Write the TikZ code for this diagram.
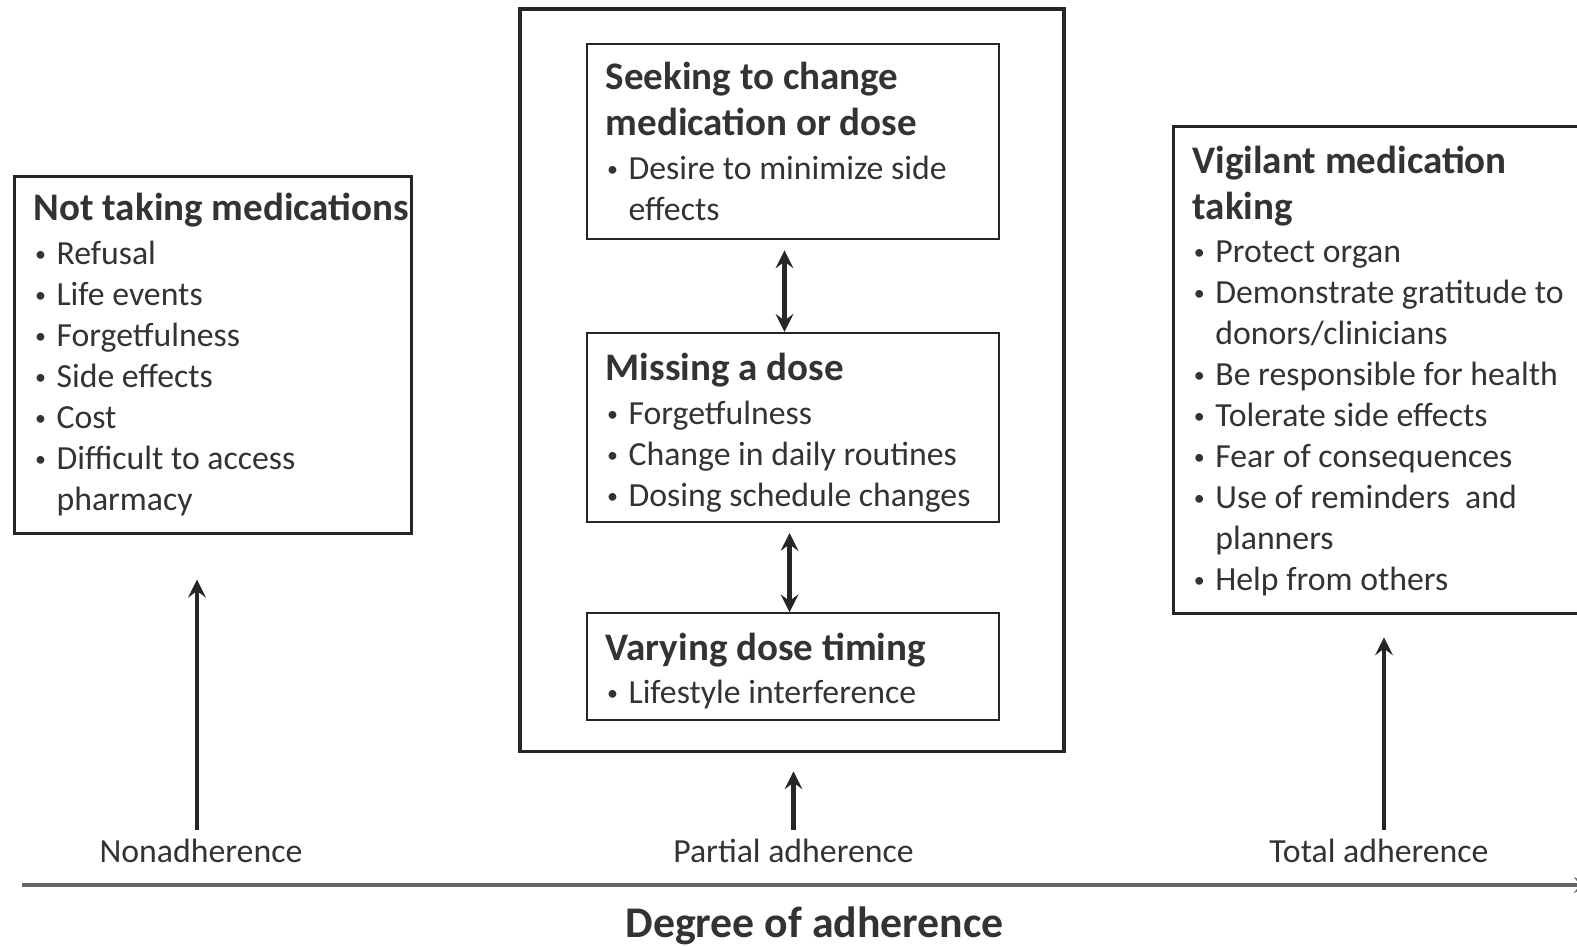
\documentclass[tikz,border=0pt]{standalone}
\usepackage{fontspec}
\setmainfont{Carlito}
\newcommand{\boxtitle}{\fontsize{11.1}{13}\selectfont\bfseries}
\newcommand{\dotitem}{\makebox[6.5pt][l]{\hspace{0.4pt}\raisebox{0.8pt}{\scalebox{0.65}{\textbullet}}}}
\newcommand{\contline}{\hspace*{6.5pt}}

\begin{document}
\begin{tikzpicture}
[
x=0.01cm, y=-0.01cm,
box/.style={draw=black!85, line width=0.6pt, inner sep=0pt},
bigbox/.style={draw=black!85, line width=1.1pt, inner sep=0pt},
txt/.style={anchor=north west, inner sep=0pt, align=left, text=black!80,
font=\fontsize{9.6}{11.67}\selectfont},
lbl/.style={text=black!80, font=\fontsize{9.6}{11.67}\selectfont},
arc/.style={-stealth, line width=1.2pt, black!85},
]
\useasboundingbox (0,0) rectangle (1577,945);
\clip (0,0) rectangle (1577,945);

% boxes
\node[box, line width=0.9pt, minimum width=3.97cm, minimum height=3.56cm] (notaking) at (212.7,355){ };
\node[bigbox, minimum width=5.44cm, minimum height=7.42cm] (partial) at (792,380.2){ };
\node[box, minimum width=4.11cm, minimum height=1.95cm] (seeking) at (793,141.8){ };
\node[box, minimum width=4.11cm, minimum height=1.89cm] (missing) at (793,427.4){ };
\node[box, minimum width=4.11cm, minimum height=1.07cm] (varying) at (793,666.8){ };
\node[box, line width=0.9pt, minimum width=4.2cm, minimum height=4.87cm] (vigilant) at (1383.7,370.1){ };

% box texts
\node[txt] (notakingtxt) at (33,192)
{{\boxtitle Not taking medications}\\[0.85pt]
\dotitem Refusal\\
\dotitem Life events\\
\dotitem Forgetfulness\\
\dotitem Side effects\\
\dotitem Cost\\
\dotitem Difficult to access\\
\contline pharmacy};
\node[txt] (seekingtxt) at (605,61)
{{\boxtitle Seeking to change}\\[1.4pt]
{\boxtitle medication or dose}\\[0.85pt]
\dotitem Desire to minimize side\\
\contline effects};
\node[txt] (missingtxt) at (605,352)
{{\boxtitle Missing a dose}\\[0.85pt]
\dotitem Forgetfulness\\
\dotitem Change in daily routines\\
\dotitem Dosing schedule changes};
\node[txt] (varyingtxt) at (605,632)
{{\boxtitle Varying dose timing}\\[0.6pt]
\dotitem Lifestyle interference};
\node[txt] (vigilanttxt) at (1191.8,145)
{{\boxtitle Vigilant medication}\\[1.4pt]
{\boxtitle taking}\\[0.6pt]
\dotitem Protect organ\\
\dotitem Demonstrate gratitude to\\
\contline donors/clinicians\\
\dotitem Be responsible for health\\
\dotitem Tolerate side effects\\
\dotitem Fear of consequences\\
\dotitem Use of reminders\ \ and\\
\contline planners\\
\dotitem Help from others};

% axis
\node[lbl] (nonadh) at (201,851){Nonadherence};
\node[lbl] (partadh) at (793.5,851){Partial adherence};
\node[lbl] (totadh) at (1379,851){Total adherence};
\node[font=\fontsize{12.45}{14}\selectfont\bfseries, text=black!80] (degree) at (814.6,926){Degree of adherence};
\coordinate (axisstart) at (22,885);
\coordinate (axisend) at (1590,885);
\draw[-stealth, line width=1pt, black!60] (axisstart)--(axisend);

\draw[arc, shorten >=0.45cm] ([yshift=-0.03cm]nonadh.north -| 197,0)--(197,0 |- notaking.south);
\draw[arc, shorten >=0.18cm] ([yshift=-0.03cm]partadh.north)--(partadh.north |- partial.south);
\draw[arc, shorten >=0.22cm] ([yshift=-0.03cm]nonadh.north -| 1384,0)--(1384,0 |- vigilant.south);
\draw[arc, stealth-stealth, shorten <=0.1cm] ([xshift=-0.085cm]seeking.south)--([xshift=-0.085cm]missing.north);
\draw[arc, stealth-stealth, shorten <=0.1cm] ([xshift=-0.035cm]missing.south)--([xshift=-0.035cm]varying.north);
\end{tikzpicture}
\end{document}
